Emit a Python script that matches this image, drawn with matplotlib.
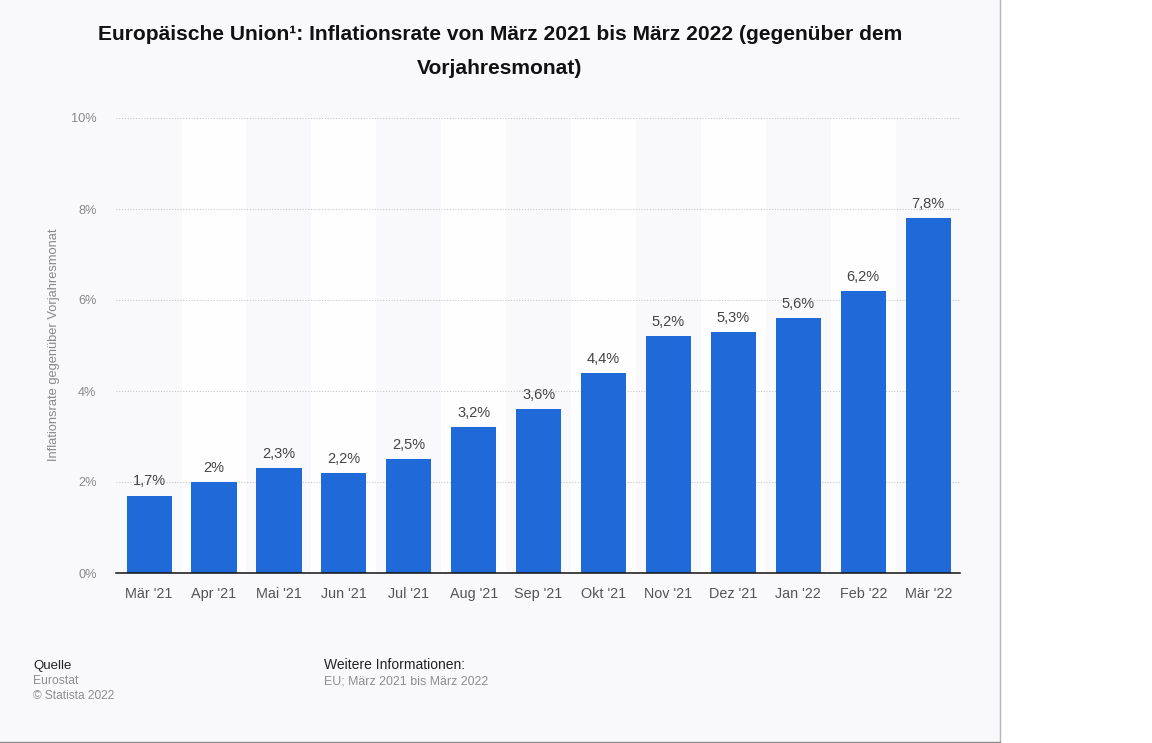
import matplotlib
matplotlib.use("Agg")
import matplotlib.pyplot as plt
from matplotlib.patches import Rectangle
from matplotlib.lines import Line2D

plt.rcParams['font.family'] = ['Liberation Sans', 'DejaVu Sans']

months = ["Mär '21", "Apr '21", "Mai '21", "Jun '21", "Jul '21", "Aug '21", "Sep '21",
          "Okt '21", "Nov '21", "Dez '21", "Jan '22", "Feb '22", "Mär '22"]
rates = [1.7, 2.0, 2.3, 2.2, 2.5, 3.2, 3.6, 4.4, 5.2, 5.3, 5.6, 6.2, 7.8]
rate_labels = ["1,7%", "2%", "2,3%", "2,2%", "2,5%", "3,2%", "3,6%", "4,4%", "5,2%", "5,3%", "5,6%", "6,2%", "7,8%"]
y_ticks = [0, 2, 4, 6, 8, 10]
y_tick_labels = ["0%", "2%", "4%", "6%", "8%", "10%"]
title_lines = ["Europäische Union¹: Inflationsrate von März 2021 bis März 2022 (gegenüber dem", "Vorjahresmonat)"]

W, H = 1152, 743
fig = plt.figure(figsize=(W / 100, H / 100), dpi=100, facecolor="white")
BG = "#f9f9fb"
fig.patches.append(Rectangle((0, 1 / H), 1000 / W, 1 - 1 / H, transform=fig.transFigure,
                             facecolor=BG, edgecolor="none", zorder=-5))
fig.add_artist(Line2D([1000 / W, 1000 / W], [1 / H, 1], color="#b5b5b5", lw=1))
fig.add_artist(Line2D([0, 1000 / W], [1 / H, 1 / H], color="#8a8a8a", lw=1))

left, right, top, bottom = 116, 960, 118, 573
ax = fig.add_axes([left / W, 1 - bottom / H, (right - left) / W, (bottom - top) / H])
ax.patch.set_alpha(0)
xs = list(range(len(months)))
ax.set_xlim(-0.51, len(months) - 0.51)
ax.set_ylim(0, 10)

for i in xs:
    if i % 2 == 1:
        ax.axvspan(i - 0.5, i + 0.5, facecolor="#fefefe", edgecolor="none", zorder=0)
for t in y_ticks[1:]:
    ax.axhline(t, color="#c8c8c8", lw=0.8, ls=(0, (1, 1.5)), zorder=1)

ax.bar(xs, rates, width=0.695, color="#2069d8", zorder=2)
for x, v, s in zip(xs, rates, rate_labels):
    ax.annotate(s, (x, v), xytext=(0, 5.2), textcoords="offset points", ha="center", va="bottom",
                fontsize=10.5, color="#444444")

for s in ["top", "left", "right"]:
    ax.spines[s].set_visible(False)
ax.spines["bottom"].set_color("#111111")
ax.spines["bottom"].set_linewidth(1.1)
ax.set_xticks(xs, months, fontsize=10.4, color="#555555")
ax.set_yticks(y_ticks, y_tick_labels, fontsize=9.2, color="#888888")
ax.tick_params(axis="both", length=0)
ax.tick_params(axis="x", pad=18)
ax.tick_params(axis="y", pad=14)
for lab in ax.get_xticklabels():
    lab.set_verticalalignment("baseline")

fig.text(54 / W, 1 - 345 / H, "Inflationsrate gegenüber Vorjahresmonat", rotation=90,
         ha="center", va="center", fontsize=9.3, color="#888888")
fig.text(500 / W, 1 - 35 / H, title_lines[0], ha="center", va="center", fontsize=15.15,
         fontweight="bold", color="#111111")
fig.text(500 / W, 1 - 68 / H, title_lines[1], ha="center", va="center", fontsize=15.15,
         fontweight="bold", color="#111111")

fig.text(33 / W, 1 - 666 / H, "Quelle", fontsize=9.5, color="#222222", va="center")
fig.text(33 / W, 1 - 681 / H, "Eurostat", fontsize=8.7, color="#8e8e8e", va="center")
fig.text(33 / W, 1 - 696 / H, "© Statista 2022", fontsize=8.6, color="#8e8e8e", va="center")
fig.text(324 / W, 1 - 665 / H, "Weitere Informationen:", fontsize=10, color="#222222", va="center")
fig.text(324 / W, 1 - 681 / H, "EU; März 2021 bis März 2022", fontsize=8.95, color="#8e8e8e", va="center")

fig.savefig("out.png", dpi=100, facecolor="white")
